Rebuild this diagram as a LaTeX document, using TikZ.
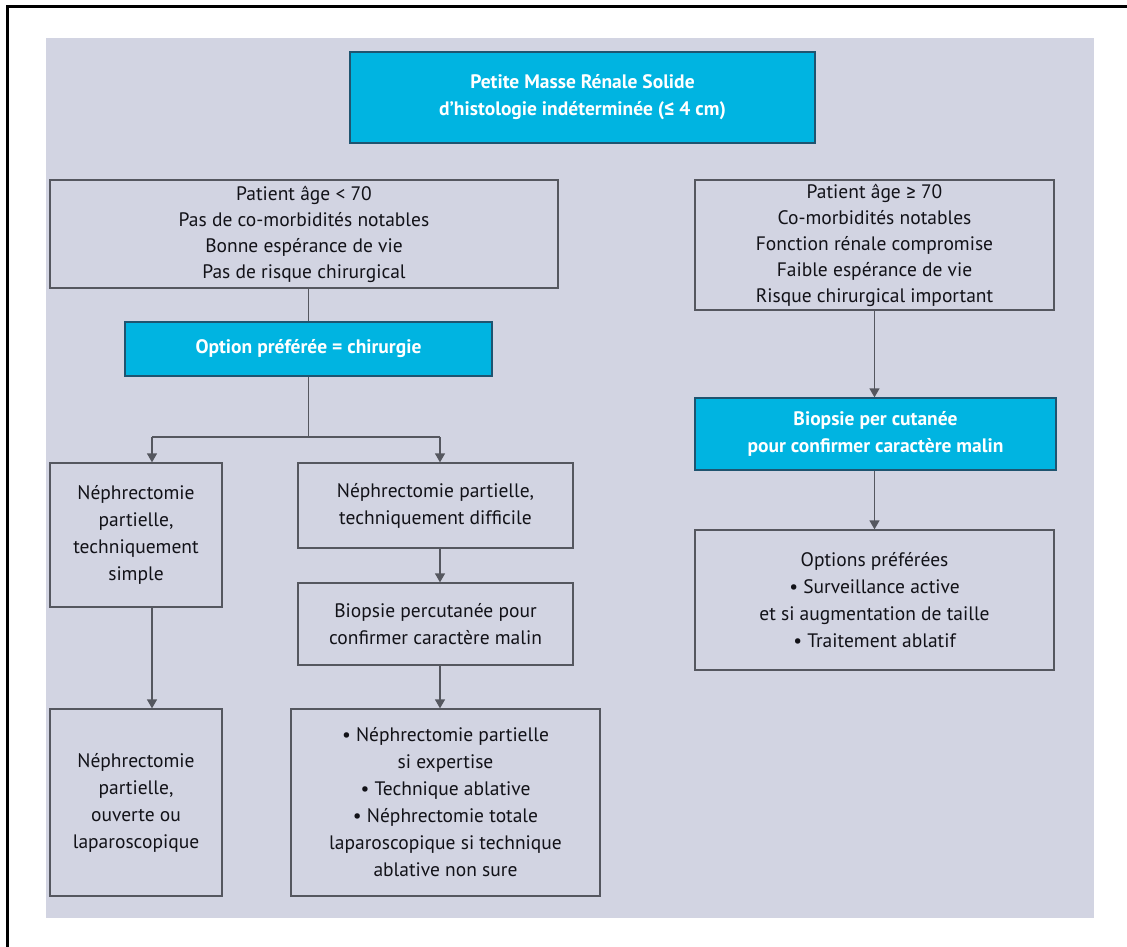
\documentclass[tikz,border=0pt]{standalone}
\usepackage{fontspec}
\setmainfont{PT Sans}
\newfontfamily\symf{Fira Sans}
\usetikzlibrary{arrows.meta}
\definecolor{panel}{HTML}{D2D4E2}
\definecolor{cyanbox}{HTML}{00B4E1}
\definecolor{cyanedge}{HTML}{1F5470}
\definecolor{edge}{HTML}{55575F}
\definecolor{txt}{HTML}{121218}
\begin{document}
\begin{tikzpicture}[x=1pt,y=-1pt,
  plain/.style={draw=edge, line width=1.3pt, fill=panel, text=txt, align=center,
    inner sep=0pt, font=\fontsize{19.5}{27}\selectfont},
  tight/.style={font=\fontsize{19.5}{26}\selectfont},
  hi/.style={draw=cyanedge, line width=1.3pt, fill=cyanbox, text=white, align=center,
    inner sep=0pt, font=\fontsize{19.5}{27}\selectfont\bfseries},
  conn/.style={draw=edge, line width=1.3pt},
  arr/.style={conn, -{Triangle[width=10pt,length=9pt]}}]
\useasboundingbox (0,0) rectangle (1127,947);
\fill[white] (0,0) rectangle (1127,947);
\draw[line width=3pt] (7,947) -- (7,7) -- (1127,7);
\fill[panel] (46,38) rectangle (1094,918);

\node[hi, minimum width=465, minimum height=91] (T) at (582.5,97.5)
  {Petite Masse Rénale Solide\\d’histologie indéterminée ({\symf ≤} 4 cm)};
\node[plain, tight, minimum width=508, minimum height=108] (A) at (304,234)
  {Patient âge < 70\\Pas de co-morbidités notables\\Bonne espérance de vie\\Pas de risque chirurgical};
\node[plain, tight, minimum width=359, minimum height=130] (E) at (874.5,245)
  {Patient âge {\symf ≥} 70\\Co-morbidités notables\\Fonction rénale compromise\\Faible espérance de vie\\Risque chirurgical important};
\node[hi, minimum width=367, minimum height=54] (O) at (308.5,349)
  {Option préférée = chirurgie};
\node[plain, minimum width=172, minimum height=144] (B) at (136,535)
  {Néphrectomie\\partielle,\\techniquement\\simple};
\node[plain, minimum width=275, minimum height=85] (C) at (435.5,505.5)
  {Néphrectomie partielle,\\techniquement difficile};
\node[plain, minimum width=275, minimum height=82] (D) at (435.5,624)
  {Biopsie percutanée pour\\confirmer caractère malin};
\node[plain, minimum width=172, minimum height=187] (G) at (136,802.5)
  {Néphrectomie\\partielle,\\ouverte ou\\laparoscopique};
\node[plain, minimum width=309, minimum height=187] (H) at (445.5,802.5)
  {• Néphrectomie partielle\\si expertise\\• Technique ablative\\• Néphrectomie totale\\laparoscopique si technique\\ablative non sure};
\node[hi, minimum width=361, minimum height=72] (Bio) at (875.5,434)
  {Biopsie per cutanée\\pour confirmer caractère malin};
\node[plain, minimum width=359, minimum height=140] (F) at (874.5,600)
  {Options préférées\\• Surveillance active\\et si augmentation de taille\\• Traitement ablatif};

\coordinate (bl) at (152,437);
\coordinate (br) at (440,437);
\draw[conn] (O.north |- A.south) -- (O.north);
\draw[conn] (O.south) -- (O.south |- bl);
\draw[conn] (bl) -- (br);
\draw[arr] (bl) -- (bl |- B.north);
\draw[arr] (br) -- (br |- C.north);
\draw[arr] (br |- C.south) -- (br |- D.north);
\draw[arr] (br |- D.south) -- (br |- H.north);
\draw[arr] (bl |- B.south) -- (bl |- G.north);
\draw[arr] (E.south) -- (E.south |- Bio.north);
\draw[arr] (E.south |- Bio.south) -- (E.south |- F.north);
\end{tikzpicture}
\end{document}
